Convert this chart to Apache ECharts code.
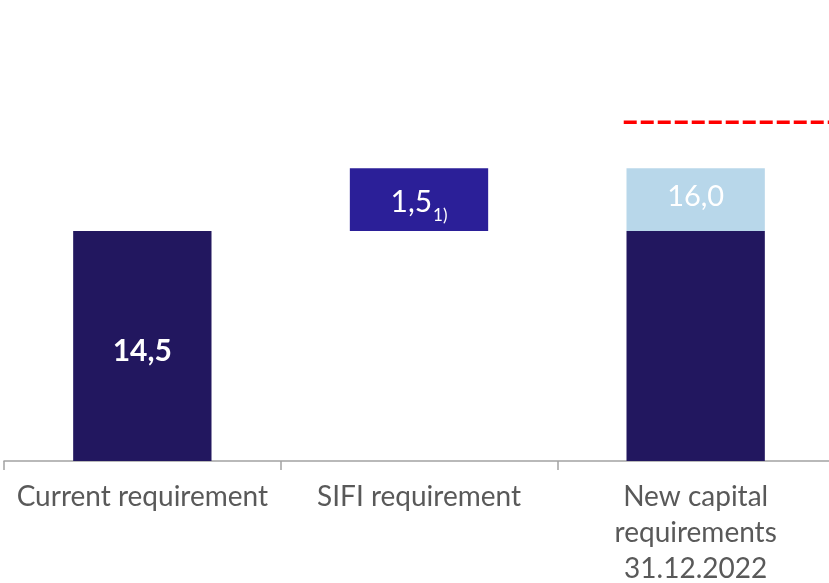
<!DOCTYPE html>
<html>
<head>
<meta charset="utf-8">
<title>Capital requirements</title>
<script src="https://cdn.jsdelivr.net/npm/echarts@6/dist/echarts.min.js"></script>
<style>
  html, body { margin: 0; padding: 0; background: #ffffff; }
  #chart { width: 829px; height: 583px; }
</style>
</head>
<body>
<div id="chart"></div>
<script>
// Categories along the x axis
const categories = ['Current requirement', 'SIFI requirement', 'New capital\nrequirements\n31.12.2022'];

// Requirement components (%)
const currentReq = [14.5, '-', 14.5];   // existing requirement (dark)
const sifiOffset = ['-', 14.5, '-'];    // invisible base for the floating SIFI step
const sifiAdd = ['-', 1.5, '-'];        // SIFI add-on
const newAdd = ['-', '-', 1.5];         // add-on inside the new requirement

// Level of the dashed reference line and where it spans on the category scale
const refLevel = 17.1;
const refSpan = [2.24, 3];

const FONT = 'Lato, "Open Sans", sans-serif';
const fmt = v => v.toFixed(1).replace('.', ',');

const chart = echarts.init(document.getElementById('chart'), null, { renderer: 'canvas' });

chart.setOption({
  animation: false,
  backgroundColor: '#ffffff',
  grid: { left: 4, width: 830, top: 1, height: 460, containLabel: false, outerBoundsMode: 'none' },
  xAxis: [
    {
      type: 'category',
      data: categories,
      axisLine: { lineStyle: { color: '#a3a3a3', width: 1.5 } },
      axisTick: { show: true, length: 9, lineStyle: { color: '#a3a3a3', width: 1.5 } },
      axisLabel: {
        interval: 0,
        margin: 18,
        color: '#595959',
        fontFamily: FONT,
        fontSize: 28,
        lineHeight: 36
      }
    },
    { type: 'value', min: 0, max: 3, show: false }
  ],
  yAxis: { type: 'value', min: 9, max: 20, show: false },
  series: [
    {
      name: 'Current requirement',
      type: 'bar',
      stack: 'req',
      barWidth: '50%',
      data: currentReq.map((v, i) => ({
        value: v,
        label: {
          show: i === 0,
          position: 'inside',
          offset: [0, 5],
          formatter: p => fmt(p.value),
          color: '#ffffff',
          fontFamily: FONT,
          fontWeight: 'bold',
          fontSize: 30
        }
      })),
      itemStyle: { color: '#22175f' }
    },
    {
      name: 'base',
      type: 'bar',
      stack: 'req',
      data: sifiOffset,
      itemStyle: { color: 'transparent' },
      silent: true
    },
    {
      name: 'SIFI requirement',
      type: 'bar',
      stack: 'req',
      data: sifiAdd,
      itemStyle: { color: '#2b1f98' },
      label: {
        show: true,
        position: 'inside',
        offset: [0, 3],
        formatter: p => '{a|' + fmt(p.value) + '}{s|1)}',
        rich: {
          a: { color: '#ffffff', fontFamily: FONT, fontSize: 30, lineHeight: 30, verticalAlign: 'top' },
          s: { color: '#ffffff', fontFamily: FONT, fontSize: 17, lineHeight: 17, verticalAlign: 'top', padding: [19, 0, 0, 1] }
        }
      }
    },
    {
      name: 'New capital requirement',
      type: 'bar',
      stack: 'req',
      data: newAdd,
      itemStyle: { color: '#b8d7ea' },
      label: {
        show: true,
        position: 'inside',
        offset: [0, -3],
        formatter: p => fmt(currentReq[p.dataIndex] + p.value),
        color: '#ffffff',
        fontFamily: FONT,
        fontSize: 29
      }
    },
    {
      name: 'Reference level',
      type: 'line',
      xAxisIndex: 1,
      data: refSpan.map(x => [x, refLevel]),
      symbol: 'none',
      lineStyle: { color: '#ff0000', width: 3.5, type: [13, 4] },
      silent: true
    }
  ]
});
</script>
</body>
</html>
